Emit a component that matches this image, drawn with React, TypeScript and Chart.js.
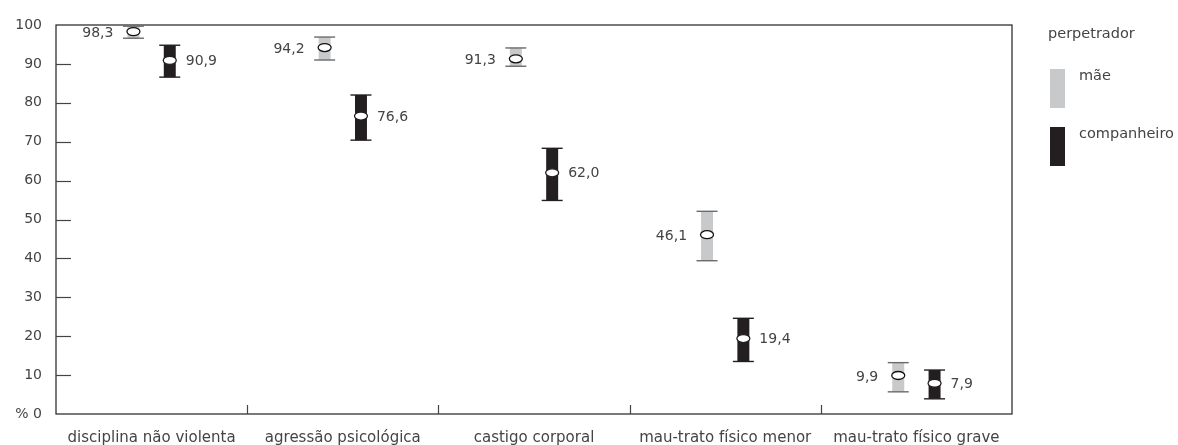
import React, { useEffect, useRef } from "react";
import { Chart, registerables } from "chart.js";

Chart.register(...registerables);

const categories = [
  "disciplina não violenta",
  "agressão psicológica",
  "castigo corporal",
  "mau-trato físico menor",
  "mau-trato físico grave",
];
const maeValues = [98.3, 94.2, 91.3, 46.1, 9.9];
const maeLower = [96.6, 91.0, 89.4, 39.4, 5.7];
const maeUpper = [99.7, 96.9, 94.1, 52.1, 13.2];
const compValues = [90.9, 76.6, 62.0, 19.4, 7.9];
const compLower = [86.6, 70.4, 54.9, 13.5, 3.9];
const compUpper = [94.8, 82.0, 68.3, 24.6, 11.3];
const yTicks = [0, 10, 20, 30, 40, 50, 60, 70, 80, 90, 100];
const legendTitle = "perpetrador";
const seriesNames = ["mãe", "companheiro"];

const FONT = "'DejaVu Sans', sans-serif";
const TEXT = "#444444";
const GRAY = "#c8c9cb";
const BLACK = "#231f20";

const fmt = (v: number) => v.toFixed(1).replace(".", ",");

const drawPlugin = {
  id: "errDraw",
  beforeDatasetsDraw(chart: any) {
    const { ctx, chartArea: a, scales } = chart;
    ctx.save();
    ctx.strokeStyle = BLACK;
    ctx.lineWidth = 1.2;
    ctx.strokeRect(a.left, a.top, a.right - a.left, a.bottom - a.top);
    ctx.strokeStyle = "#444";
    ctx.lineWidth = 1.2;
    yTicks.forEach((t) => {
      if (t === 0 || t === 100) return;
      const y = Math.round(scales.y.getPixelForValue(t)) + 0.5;
      ctx.beginPath();
      ctx.moveTo(a.left, y);
      ctx.lineTo(a.left + 15, y);
      ctx.stroke();
    });
    const n = categories.length;
    for (let i = 1; i < n; i++) {
      const x =
        Math.round(
          (scales.x.getPixelForValue(i - 1) + scales.x.getPixelForValue(i)) / 2
        ) + 0.5;
      ctx.beginPath();
      ctx.moveTo(x, a.bottom);
      ctx.lineTo(x, a.bottom - 9);
      ctx.stroke();
    }
    ctx.restore();
  },
  afterDatasetsDraw(chart: any) {
    const { ctx, scales } = chart;
    const y = scales.y;
    const sets = [
      { v: maeValues, lo: maeLower, hi: maeUpper, cap: "#6a6a6a", side: -1, stroke: "#111" },
      { v: compValues, lo: compLower, hi: compUpper, cap: BLACK, side: 1, stroke: BLACK },
    ];
    ctx.save();
    sets.forEach((s, di) => {
      const meta = chart.getDatasetMeta(di);
      meta.data.forEach((el: any, i: number) => {
        const x = el.x;
        ctx.strokeStyle = s.cap;
        ctx.lineWidth = 1.4;
        [s.lo[i], s.hi[i]].forEach((val) => {
          const py = y.getPixelForValue(val);
          ctx.beginPath();
          ctx.moveTo(x - 10.5, py);
          ctx.lineTo(x + 10.5, py);
          ctx.stroke();
        });
        const py = y.getPixelForValue(s.v[i]);
        ctx.beginPath();
        ctx.ellipse(x, py, 6.5, 4, 0, 0, Math.PI * 2);
        ctx.fillStyle = "#ffffff";
        ctx.fill();
        ctx.strokeStyle = s.stroke;
        ctx.lineWidth = 1.3;
        ctx.stroke();
        ctx.fillStyle = TEXT;
        ctx.font = `14px ${FONT}`;
        ctx.textBaseline = "middle";
        if (s.side < 0) {
          ctx.textAlign = "right";
          ctx.fillText(fmt(s.v[i]), x - 20, py + 2);
        } else {
          ctx.textAlign = "left";
          ctx.fillText(fmt(s.v[i]), x + 16, py + 1);
        }
      });
    });
    ctx.fillStyle = TEXT;
    ctx.font = `14.5px ${FONT}`;
    ctx.textAlign = "left";
    ctx.textBaseline = "middle";
    ctx.fillText(legendTitle, 1048, 34);
    ctx.fillStyle = GRAY;
    ctx.fillRect(1050, 69, 15, 39);
    ctx.fillStyle = BLACK;
    ctx.fillRect(1050, 127, 15, 39);
    ctx.fillStyle = TEXT;
    ctx.fillText(seriesNames[0], 1079, 76);
    ctx.fillText(seriesNames[1], 1079, 134);
    ctx.restore();
  },
};

export default function App() {
  const ref = useRef<HTMLCanvasElement | null>(null);
  useEffect(() => {
    document.body.style.margin = "0";
    const canvas = ref.current!;
    const chart = new Chart(canvas, {
      type: "bar",
      data: {
        labels: categories,
        datasets: [
          {
            label: seriesNames[0],
            data: categories.map((_, i) => [maeLower[i], maeUpper[i]]) as any,
            backgroundColor: GRAY,
            borderWidth: 0,
            categoryPercentage: 0.38,
            barPercentage: 0.33,
          },
          {
            label: seriesNames[1],
            data: categories.map((_, i) => [compLower[i], compUpper[i]]) as any,
            backgroundColor: BLACK,
            borderWidth: 0,
            categoryPercentage: 0.38,
            barPercentage: 0.33,
          },
        ],
      },
      options: {
        responsive: false,
        animation: false,
        layout: {
          autoPadding: false,
          padding: { left: 0, right: 166, top: 25, bottom: 0 },
        } as any,
        plugins: {
          legend: { display: false },
          tooltip: { enabled: false },
        },
        scales: {
          x: {
            grid: { display: false, drawTicks: false },
            border: { display: false },
            ticks: {
              color: TEXT,
              font: { family: FONT, size: 15 },
              padding: 15,
              maxRotation: 0,
              autoSkip: false,
            },
            afterFit(scale: any) {
              scale.height = 31;
            },
          },
          y: {
            min: 0,
            max: 100,
            afterBuildTicks(scale: any) {
              scale.ticks = yTicks.map((v) => ({ value: v }));
            },
            grid: { display: false, drawTicks: false },
            border: { display: false },
            ticks: {
              color: TEXT,
              font: { family: FONT, size: 14 },
              padding: 14,
              callback: (v: any) => (v === 0 ? "% 0" : String(v)),
            },
            afterFit(scale: any) {
              scale.width = 56;
            },
          },
        },
      },
      plugins: [drawPlugin],
    });
    return () => chart.destroy();
  }, []);
  return (
    <div style={{ width: 1178, height: 445 }}>
      <canvas ref={ref} width={1178} height={445} style={{ display: "block" }} />
    </div>
  );
}
